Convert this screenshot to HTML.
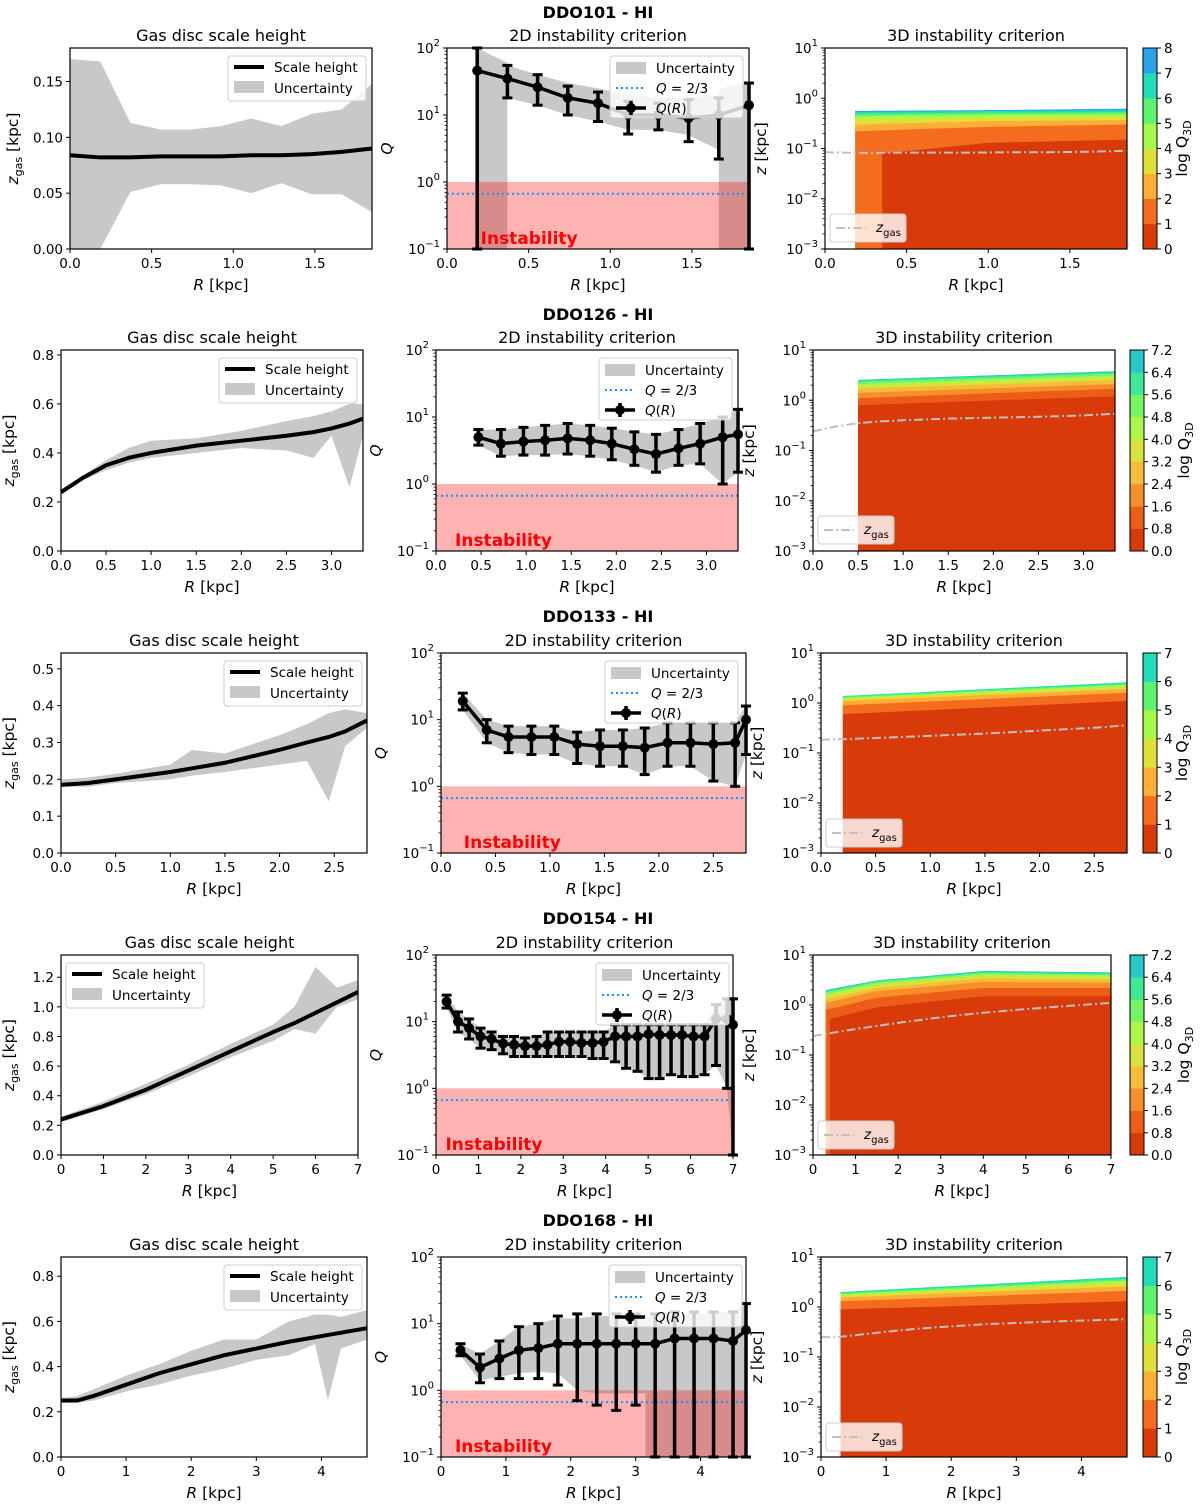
<!DOCTYPE html>
<html><head><meta charset="utf-8">
<style>
html,body{margin:0;padding:0;background:#fff;}
svg{display:block;font-family:"DejaVu Sans","Liberation Sans",sans-serif;}
</style></head>
<body>
<svg id="fig" xmlns="http://www.w3.org/2000/svg" width="1200" height="1509" viewBox="0 0 1200 1509"></svg>
<script>
// ===== DATA =====
const r1_R=[0,0.185,0.37,0.555,0.74,0.925,1.11,1.295,1.48,1.665,1.85];
const r1_zgas=[0.084,0.082,0.082,0.083,0.083,0.083,0.084,0.084,0.085,0.087,0.090];
const r1_zUp=[0.170,0.168,0.113,0.107,0.107,0.110,0.117,0.110,0.121,0.125,0.148];
const r1_zLo=[0.0,0.0,0.051,0.058,0.058,0.057,0.050,0.059,0.049,0.049,0.033];
const r1_QR=[0.185,0.37,0.555,0.74,0.925,1.11,1.295,1.48,1.665,1.85];
const r1_Q=[46,35,26,18,15,10,10,9,10,14];
const r1_Qlo=[0.1,18,14,10,8,5.2,6,4,2.2,0.1];
const r1_Qhi=[100,55,40,27,22,16,15,17,18,30];
const r1_bR=[0.185,0.37,0.37,0.555,0.74,0.925,1.11,1.295,1.48,1.665,1.665,1.85];
const r1_bLo=[0.1,0.1,18,14,10,8,6,6,5,3,0.1,0.1];
const r1_bHi=[100,60,55,40,30,25,20,18,18,20,25,30];
const r1_nodes=[0.185,1.0,1.85];
const r1_tops=[[0.07,0.22,0.30,0.38,0.44,0.49,0.53,0.56],[0.13,0.27,0.35,0.41,0.47,0.52,0.56,0.58],[0.15,0.30,0.37,0.43,0.48,0.53,0.58,0.62]];
const r1_levels=[0,1,2,3,4,5,6,7,8];
const r2_R=[0,0.25,0.5,0.75,1.0,1.5,2.0,2.5,2.8,3.0,3.2,3.35];
const r2_zgas=[0.24,0.30,0.35,0.38,0.40,0.43,0.45,0.47,0.485,0.50,0.52,0.54];
const r2_zUp=[0.25,0.31,0.37,0.42,0.45,0.46,0.49,0.53,0.55,0.57,0.60,0.60];
const r2_zLo=[0.23,0.29,0.33,0.36,0.38,0.40,0.42,0.41,0.38,0.47,0.26,0.47];
const r2_QR=[0.47,0.72,0.97,1.21,1.46,1.71,1.95,2.2,2.44,2.69,2.93,3.18,3.35];
const r2_Q=[5,4,4.3,4.5,4.8,4.5,4,3.3,2.8,3.4,4,5,5.5];
const r2_Qlo=[3.8,2.6,2.7,2.7,2.8,2.6,2.3,1.9,1.5,1.9,2.0,1.0,1.5];
const r2_Qhi=[6.5,6.5,7,7.5,8,7.5,6.8,6,5.5,6.5,8,10,13];
const r2_nodes=[0.5,3.35];
const r2_tops=[[0.8,1.1,1.4,1.7,1.9,2.1,2.3,2.45,2.55],[1.2,1.7,2.1,2.5,2.8,3.1,3.4,3.6,3.8]];
const r2_levels=[0,0.8,1.6,2.4,3.2,4.0,4.8,5.6,6.4,7.2];
const r3_R=[0,0.25,0.5,1.0,1.2,1.5,2.0,2.25,2.45,2.6,2.8];
const r3_zgas=[0.185,0.19,0.20,0.22,0.23,0.245,0.28,0.30,0.315,0.33,0.36];
const r3_zUp=[0.20,0.205,0.215,0.24,0.28,0.27,0.32,0.35,0.38,0.39,0.38];
const r3_zLo=[0.18,0.18,0.19,0.20,0.21,0.22,0.24,0.25,0.14,0.29,0.34];
const r3_QR=[0.2,0.42,0.62,0.83,1.04,1.25,1.46,1.67,1.87,2.08,2.29,2.5,2.7,2.8];
const r3_Q=[19,7,5.5,5.5,5.5,4.3,4,4,3.8,4.5,4.5,4.3,4.5,10];
const r3_Qlo=[14,4.5,3.2,3,3,2.2,2,2,1.5,2,2,1.2,1,3];
const r3_Qhi=[25,10,8,8,8,6.5,7,7,7.5,9,9,9,9,16];
const r3_nodes=[0.2,2.8];
const r3_tops=[[0.6,0.9,1.1,1.2,1.28,1.33,1.38],[1.1,1.6,1.9,2.1,2.3,2.45,2.6]];
const r3_levels=[0,1,2,3,4,5,6,7];
const r4_R=[0,1,2,3,4,5,5.5,6,6.5,7];
const r4_zgas=[0.24,0.33,0.44,0.57,0.70,0.83,0.89,0.96,1.03,1.10];
const r4_zUp=[0.26,0.36,0.48,0.61,0.75,0.88,1.0,1.27,1.13,1.18];
const r4_zLo=[0.22,0.31,0.41,0.53,0.66,0.77,0.85,0.82,1.0,1.05];
const r4_QR=[0.25,0.52,0.78,1.05,1.31,1.58,1.84,2.1,2.37,2.63,2.9,3.16,3.43,3.69,3.95,4.22,4.48,4.75,5.01,5.27,5.54,5.8,6.07,6.33,6.6,6.86,7.0];
const r4_Q=[20,10,8,6,5.5,4.7,4.5,4.3,4.3,4.5,5,5,4.8,4.8,5,6,6,6,6.5,6.3,6.3,6.3,6,6,11,11,9];
const r4_Qlo=[16,7,5.5,4,3.8,3.3,3,3,3,3,3,3,3,2.8,2.8,2.5,2,1.8,1.4,1.4,1.6,1.5,1.5,1.6,2.2,1.0,0.1];
const r4_Qhi=[25,14,11,8,7,6,6,5.7,6,7,7,7,7,7,7,9,9,9,9,9,9,9,9,9,18,22,22];
const r4_nodes=[0.3,1.5,4,7];
const r4_tops=[[0.5,0.8,1.1,1.3,1.5,1.65,1.8,1.9,2.0],[0.9,1.4,1.9,2.2,2.5,2.7,2.9,3.0,3.1],[1.5,2.2,2.9,3.4,3.8,4.1,4.4,4.6,4.8],[1.5,2.2,2.8,3.2,3.6,3.9,4.1,4.3,4.5]];
const r4_levels=[0,0.8,1.6,2.4,3.2,4.0,4.8,5.6,6.4,7.2];
const r5_R=[0,0.25,0.5,1,1.5,2,2.5,3,3.5,3.9,4.1,4.3,4.7];
const r5_zgas=[0.25,0.25,0.27,0.32,0.37,0.41,0.45,0.48,0.51,0.53,0.54,0.55,0.57];
const r5_zUp=[0.26,0.27,0.30,0.36,0.41,0.47,0.52,0.52,0.60,0.63,0.63,0.62,0.65];
const r5_zLo=[0.24,0.24,0.25,0.29,0.32,0.36,0.39,0.43,0.45,0.50,0.25,0.48,0.52];
const r5_QR=[0.3,0.6,0.9,1.2,1.5,1.8,2.1,2.4,2.7,3.0,3.3,3.6,3.9,4.2,4.5,4.7];
const r5_Q=[4,2.2,3,4,4.3,5,5,5,5,5,5,6,6,6,5.5,8];
const r5_Qlo=[3.3,1.3,1.5,1.5,1.5,1.2,0.7,0.6,0.5,0.6,0.1,0.1,0.1,0.1,0.1,0.1];
const r5_Qhi=[5,3.5,5.5,9,10,13,14,14,14,14,14,15,15,15,15,20];
const r5_bR=[0.3,0.6,0.9,1.2,1.5,1.8,2.1,2.4,2.7,3.0,3.15,3.15,3.3,3.6,3.9,4.2,4.5,4.7];
const r5_bLo=[3.3,1.4,1.6,1.8,1.9,1.8,1.0,0.9,0.9,0.9,0.9,0.1,0.1,0.1,0.1,0.1,0.1,0.1];
const r5_bHi=[5,3.5,5.5,9,10,12,12,13,13,13,13,13,14,14,14,15,15,20];
const r5_nodes=[0.3,4.7];
const r5_tops=[[0.9,1.3,1.55,1.7,1.8,1.9,2.0],[1.3,2.1,2.6,3.0,3.4,3.7,4.0]];
const r5_levels=[0,1,2,3,4,5,6,7];

const galaxies=['DDO101 - HI','DDO126 - HI','DDO133 - HI','DDO154 - HI','DDO168 - HI'];

const rows=[
 {ty:18,L:[70,48,372,249],M:[447,48,749,249],C:[825,48,1127,249],CB:[1143,48,1157,249],Rmax:1.85,xt:[0,0.5,1,1.5],xf:1,yMax:0.18,yt:[0,0.05,0.1,0.15],yf:2,R:r1_R,zg:r1_zgas,up:r1_zUp,lo:r1_zLo,QR:r1_QR,Q:r1_Q,Qlo:r1_Qlo,Qhi:r1_Qhi,bR:r1_bR,bLo:r1_bLo,bHi:r1_bHi,nodes:r1_nodes,tops:r1_tops,lv:r1_levels,lf:0,inner:0.35,legL:[228,56],legM:[610,56],legC:[830,214]},
 {ty:320,L:[61,350,363,551],M:[436,350,738,551],C:[813,350,1115,551],CB:[1130,350,1144,551],Rmax:3.35,xt:[0,0.5,1,1.5,2,2.5,3],xf:1,yMax:0.82,yt:[0,0.2,0.4,0.6,0.8],yf:1,R:r2_R,zg:r2_zgas,up:r2_zUp,lo:r2_zLo,QR:r2_QR,Q:r2_Q,Qlo:r2_Qlo,Qhi:r2_Qhi,bR:r2_QR,bLo:r2_Qlo,bHi:r2_Qhi,nodes:r2_nodes,tops:r2_tops,lv:r2_levels,lf:1,inner:null,legL:[219,358],legM:[599,358],legC:[818,516]},
 {ty:622,L:[61,653,367,853],M:[441,653,746,853],C:[821,653,1127,853],CB:[1143,653,1157,853],Rmax:2.8,xt:[0,0.5,1,1.5,2,2.5],xf:1,yMax:0.543,yt:[0,0.1,0.2,0.3,0.4,0.5],yf:1,R:r3_R,zg:r3_zgas,up:r3_zUp,lo:r3_zLo,QR:r3_QR,Q:r3_Q,Qlo:r3_Qlo,Qhi:r3_Qhi,bR:r3_QR,bLo:r3_Qlo,bHi:r3_Qhi,nodes:r3_nodes,tops:r3_tops,lv:r3_levels,lf:0,inner:null,legL:[224,661],legM:[605,661],legC:[826,819]},
 {ty:924,L:[61,955,358,1155],M:[436,955,733,1155],C:[813,955,1111,1155],CB:[1130,955,1144,1155],Rmax:7,xt:[0,1,2,3,4,5,6,7],xf:0,yMax:1.35,yt:[0,0.2,0.4,0.6,0.8,1.0,1.2],yf:1,R:r4_R,zg:r4_zgas,up:r4_zUp,lo:r4_zLo,QR:r4_QR,Q:r4_Q,Qlo:r4_Qlo,Qhi:r4_Qhi,bR:r4_QR,bLo:r4_Qlo,bHi:r4_Qhi,nodes:r4_nodes,tops:r4_tops,lv:r4_levels,lf:1,inner:0.4,legL:[66,963],legM:[596,963],legC:[818,1121]},
 {ty:1226,L:[61,1257,367,1457],M:[441,1257,746,1457],C:[821,1257,1127,1457],CB:[1143,1257,1157,1457],Rmax:4.7,xt:[0,1,2,3,4],xf:0,yMax:0.885,yt:[0,0.2,0.4,0.6,0.8],yf:1,R:r5_R,zg:r5_zgas,up:r5_zUp,lo:r5_zLo,QR:r5_QR,Q:r5_Q,Qlo:r5_Qlo,Qhi:r5_Qhi,bR:r5_bR,bLo:r5_bLo,bHi:r5_bHi,nodes:r5_nodes,tops:r5_tops,lv:r5_levels,lf:0,inner:null,legL:[224,1265],legM:[609,1265],legC:[826,1423]}
];

const NS='http://www.w3.org/2000/svg';
const svg=document.getElementById('fig');
function mk(tag,attrs,parent){const e=document.createElementNS(NS,tag);for(const k in attrs)e.setAttribute(k,attrs[k]);(parent||svg).appendChild(e);return e;}
function tx(x,y,s,attrs,parent){const t=mk('text',Object.assign({x:x,y:y},attrs||{}),parent);if(s!==null)t.textContent=s;return t;}
function sup(t,base,exp){const a=mk('tspan',{},t);a.textContent=base;const b=mk('tspan',{dy:-7,'font-size':10},t);b.textContent=exp;}
const lg=Math.log10;
const cmapStops=[[0.5,[216,58,10]],[1.5,[244,109,30]],[2.5,[252,174,55]],[3.5,[223,224,58]],[4.5,[166,248,76]],[5.5,[94,243,111]],[6.5,[34,219,185]],[7.5,[43,163,234]]];
function cmap(v){if(v<=cmapStops[0][0])return rgb(cmapStops[0][1]);for(let i=1;i<cmapStops.length;i++){if(v<=cmapStops[i][0]){const a=cmapStops[i-1],b=cmapStops[i];const t=(v-a[0])/(b[0]-a[0]);return rgb(a[1].map((c,j)=>c+(b[1][j]-c)*t));}}return rgb(cmapStops[cmapStops.length-1][1]);}
function rgb(c){return 'rgb('+c.map(Math.round).join(',')+')';}
function interpLog(nodes,vals,R){if(R<=nodes[0])return lg(vals[0]);for(let i=1;i<nodes.length;i++){if(R<=nodes[i]){const t=(R-nodes[i-1])/(nodes[i]-nodes[i-1]);return lg(vals[i-1])+(lg(vals[i])-lg(vals[i-1]))*t;}}return lg(vals[vals.length-1]);}

function frame(g,b){const f=mk('rect',{x:b[0],y:b[1],width:b[2]-b[0],height:b[3]-b[1],fill:'none',stroke:'#000','stroke-width':1.2},g);

}
function xTicks(g,b,xt,xmax,fmt){const sx=v=>b[0]+v/xmax*(b[2]-b[0]);xt.forEach(v=>{const x=sx(v);mk('line',{x1:x,x2:x,y1:b[3],y2:b[3]+4,stroke:'#000','stroke-width':1},g);const t=tx(x,b[3]+19,v.toFixed(fmt),{'font-size':13.5,'text-anchor':'middle'},g);

});
const xl=tx((b[0]+b[2])/2,b[3]+41,null,{'font-size':15.5,'text-anchor':'middle'},g);


const i=mk('tspan',{'font-style':'italic'},xl);i.textContent='R';const r=mk('tspan',{},xl);r.textContent=' [kpc]';}
function logYTicks(g,b,e0,e1){const sy=v=>b[3]-(lg(v)-e0)/(e1-e0)*(b[3]-b[1]);for(let e=e0;e<=e1;e++){const y=sy(Math.pow(10,e));mk('line',{x1:b[0],x2:b[0]-4,y1:y,y2:y,stroke:'#000','stroke-width':1},g);const t=tx(b[0]-7,y+5,null,{'font-size':13.5,'text-anchor':'end'},g);


sup(t,'10',e<0?'\u2212'+(-e):String(e));if(e<e1){for(let m=2;m<10;m++){const yy=sy(m*Math.pow(10,e));mk('line',{x1:b[0],x2:b[0]-2.5,y1:yy,y2:yy,stroke:'#000','stroke-width':0.8},g);}}}return sy;}

rows.forEach((r,ri)=>{
 const row=mk('g',{});
 
 
 const st=tx(598,r.ty,galaxies[ri],{'font-size':16,'font-weight':'bold','text-anchor':'middle'},row);
 
 

 const b=r.L;const gL=mk('g',{},row);
 
 
 const sx=v=>b[0]+v/r.Rmax*(b[2]-b[0]);const sy=v=>b[3]-v/r.yMax*(b[3]-b[1]);
 let p='';r.R.forEach((R,i)=>{p+=(i?'L':'M')+sx(R)+','+sy(r.up[i]);});for(let i=r.R.length-1;i>=0;i--)p+='L'+sx(r.R[i])+','+sy(r.lo[i]);
 const band=mk('path',{d:p+'Z',fill:'#c8c8c8'},gL);
 
 
 const ln=mk('polyline',{points:r.R.map((R,i)=>sx(R)+','+sy(r.zg[i])).join(' '),fill:'none',stroke:'#000','stroke-width':4},gL);
 
 
 frame(gL,b);
 xTicks(gL,b,r.xt,r.Rmax,r.xf);
 r.yt.forEach(v=>{const y=sy(v);mk('line',{x1:b[0],x2:b[0]-4,y1:y,y2:y,stroke:'#000'},gL);const t=tx(b[0]-7,y+5,v.toFixed(r.yf),{'font-size':13.5,'text-anchor':'end'},gL);
 
 });
 const ylx=b[0]-(r.yf===2?52:47);const cy=(b[1]+b[3])/2;
 const yl=tx(ylx,cy,null,{'font-size':15.5,'text-anchor':'middle',transform:'rotate(-90 '+ylx+' '+cy+')'},gL);
 
 
 let a=mk('tspan',{'font-style':'italic'},yl);a.textContent='z';a=mk('tspan',{dy:4,'font-size':11},yl);a.textContent='gas';a=mk('tspan',{dy:-4},yl);a.textContent=' [kpc]';
 const t1=tx((b[0]+b[2])/2,b[1]-7,'Gas disc scale height',{'font-size':16,'text-anchor':'middle'},gL);
 
 
 const lx=r.legL[0],ly=r.legL[1];const leg=mk('g',{},gL);
 
 
 mk('rect',{x:lx,y:ly,width:138,height:45,rx:3,fill:'rgba(255,255,255,0.8)',stroke:'#ccc'},leg);
 mk('line',{x1:lx+6,x2:lx+36,y1:ly+11,y2:ly+11,stroke:'#000','stroke-width':4},leg);
 tx(lx+46,ly+16,'Scale height',{'font-size':13.5},leg);
 mk('rect',{x:lx+6,y:ly+25,width:30,height:12,fill:'#c8c8c8'},leg);
 tx(lx+46,ly+37,'Uncertainty',{'font-size':13.5},leg);

 const m=r.M;const gM=mk('g',{},row);
 
 
 const mx=v=>m[0]+v/r.Rmax*(m[2]-m[0]);const my=v=>m[3]-(lg(v)+1)/3*(m[3]-m[1]);
 p='';r.bR.forEach((R,i)=>{p+=(i?'L':'M')+mx(R)+','+my(Math.min(r.bHi[i],100));});for(let i=r.bR.length-1;i>=0;i--)p+='L'+mx(r.bR[i])+','+my(Math.max(r.bLo[i],0.1));
 const qb=mk('path',{d:p+'Z',fill:'#c8c8c8'},gM);
 
 
 const pk=mk('rect',{x:m[0],y:my(1),width:m[2]-m[0],height:my(0.1)-my(1),fill:'rgba(255,0,0,0.3)'},gM);
 
 
 const dl=mk('line',{x1:m[0],x2:m[2],y1:my(2/3),y2:my(2/3),stroke:'#1e8fff','stroke-width':2,'stroke-dasharray':'2,3'},gM);
 
 
 const ql=mk('polyline',{points:r.QR.map((R,i)=>mx(R)+','+my(r.Q[i])).join(' '),fill:'none',stroke:'#000','stroke-width':3.5},gM);
 
 
 r.QR.forEach((R,i)=>{const x=mx(R);const y0=my(Math.min(r.Qhi[i],100)),y1=my(Math.max(r.Qlo[i],0.1));
  const eb=mk('g',{},gM);
  
  
  mk('line',{x1:x,x2:x,y1:y0,y2:y1,stroke:'#000','stroke-width':3.5},eb);
  mk('line',{x1:x-5,x2:x+5,y1:y0,y2:y0,stroke:'#000','stroke-width':3},eb);
  mk('line',{x1:x-5,x2:x+5,y1:y1,y2:y1,stroke:'#000','stroke-width':3},eb);
  const pt=mk('circle',{cx:x,cy:my(r.Q[i]),r:5,fill:'#000'},eb);
  
  });
 const ins=tx(mx(0.2)+1,m[3]-5,'Instability',{'font-size':17,'font-weight':'bold',fill:'#ff0000'},gM);
 
 
 frame(gM,m);xTicks(gM,m,r.xt,r.Rmax,r.xf);logYTicks(gM,m,-1,2);
 const qx=m[0]-55,qy=(m[1]+m[3])/2;
 const qt=tx(qx,qy,'Q',{'font-size':15.5,'font-style':'italic','text-anchor':'middle',transform:'rotate(-90 '+qx+' '+qy+')'},gM);
 
 
 const t2=tx((m[0]+m[2])/2,m[1]-7,'2D instability criterion',{'font-size':16,'text-anchor':'middle'},gM);
 
 
 const mlx=r.legM[0],mly=r.legM[1];const lm=mk('g',{},gM);
 
 
 mk('rect',{x:mlx,y:mly,width:133,height:62,rx:3,fill:'rgba(255,255,255,0.8)',stroke:'#ccc'},lm);
 mk('rect',{x:mlx+6,y:mly+6,width:30,height:12,fill:'#c8c8c8'},lm);
 tx(mlx+46,mly+17,'Uncertainty',{'font-size':13.5},lm);
 mk('line',{x1:mlx+6,x2:mlx+36,y1:mly+32,y2:mly+32,stroke:'#1e8fff','stroke-width':2,'stroke-dasharray':'2,3'},lm);
 const qe=tx(mlx+46,mly+37,null,{'font-size':13.5},lm);a=mk('tspan',{'font-style':'italic'},qe);a.textContent='Q';a=mk('tspan',{},qe);a.textContent=' = 2/3';
 mk('line',{x1:mlx+6,x2:mlx+36,y1:mly+52,y2:mly+52,stroke:'#000','stroke-width':3.5},lm);
 mk('line',{x1:mlx+21,x2:mlx+21,y1:mly+45,y2:mly+59,stroke:'#000','stroke-width':3.5},lm);
 mk('circle',{cx:mlx+21,cy:mly+52,r:5,fill:'#000'},lm);
 const qr=tx(mlx+46,mly+57,null,{'font-size':13.5},lm);a=mk('tspan',{'font-style':'italic'},qr);a.textContent='Q';a=mk('tspan',{},qr);a.textContent='(';a=mk('tspan',{'font-style':'italic'},qr);a.textContent='R';a=mk('tspan',{},qr);a.textContent=')';

 const c=r.C;const gC=mk('g',{},row);
 
 
 const cx=v=>c[0]+v/r.Rmax*(c[2]-c[0]);const cyy=lv=>c[3]-(lv+3)/4*(c[3]-c[1]);
 const nb=r.lv.length-1;const R0=r.nodes[0];
 for(let k=nb-1;k>=0;k--){
  const rs=(k===0&&r.inner)?r.inner:R0;const N=40;let pp='M'+cx(rs)+','+c[3];
  for(let s=0;s<=N;s++){const R=rs+(r.Rmax-rs)*s/N;const vals=r.tops.map(t=>t[k]);pp+='L'+cx(R)+','+cyy(interpLog(r.nodes,vals,R));}
  pp+='L'+cx(r.Rmax)+','+c[3]+'Z';
  const bd=mk('path',{d:pp,fill:cmap((r.lv[k]+r.lv[k+1])/2)},gC);
  
  }
 const zl=mk('polyline',{points:r.R.map((R,i)=>cx(R)+','+cyy(lg(r.zg[i]))).join(' '),fill:'none',stroke:'#c0c0c0','stroke-width':2,'stroke-dasharray':'9,3,2,3'},gC);
 
 
 frame(gC,c);xTicks(gC,c,r.xt,r.Rmax,r.xf);logYTicks(gC,c,-3,1);
 const zx=c[0]-59,zy=(c[1]+c[3])/2;
 const zt=tx(zx,zy,null,{'font-size':15.5,'text-anchor':'middle',transform:'rotate(-90 '+zx+' '+zy+')'},gC);
 
 
 a=mk('tspan',{'font-style':'italic'},zt);a.textContent='z';a=mk('tspan',{},zt);a.textContent=' [kpc]';
 const t3=tx((c[0]+c[2])/2,c[1]-7,'3D instability criterion',{'font-size':16,'text-anchor':'middle'},gC);
 
 
 const clx=r.legC[0],cly=r.legC[1];const lc=mk('g',{},gC);
 
 
 mk('rect',{x:clx,y:cly,width:76,height:28,rx:3,fill:'rgba(255,255,255,0.8)',stroke:'#ccc'},lc);
 mk('line',{x1:clx+6,x2:clx+36,y1:cly+14,y2:cly+14,stroke:'#c0c0c0','stroke-width':2,'stroke-dasharray':'9,3,2,3'},lc);
 const zz=tx(clx+46,cly+18,null,{'font-size':13.5},lc);a=mk('tspan',{'font-style':'italic'},zz);a.textContent='z';a=mk('tspan',{dy:4,'font-size':10},zz);a.textContent='gas';

 const cb=r.CB;const gB=mk('g',{},row);
 
 
 const vmax=r.lv[nb];const by=v=>cb[3]-v/vmax*(cb[3]-cb[1]);
 for(let k=0;k<nb;k++){const sw=mk('rect',{x:cb[0],y:by(r.lv[k+1]),width:cb[2]-cb[0],height:by(r.lv[k])-by(r.lv[k+1])+0.3,fill:cmap((r.lv[k]+r.lv[k+1])/2)},gB);
  
  }
 mk('rect',{x:cb[0],y:cb[1],width:cb[2]-cb[0],height:cb[3]-cb[1],fill:'none',stroke:'#000'},gB);
 r.lv.forEach(v=>{const y=by(v);mk('line',{x1:cb[2],x2:cb[2]+4,y1:y,y2:y,stroke:'#000'},gB);const t=tx(cb[2]+7,y+5,v.toFixed(r.lf),{'font-size':13.5},gB);
  
  });
 const bx=cb[2]+(r.lf?45:30),byc=(cb[1]+cb[3])/2;
 const bl=tx(bx,byc,null,{'font-size':15.5,'text-anchor':'middle',transform:'rotate(-90 '+bx+' '+byc+')'},gB);
 
 
 a=mk('tspan',{},bl);a.textContent='log Q';a=mk('tspan',{dy:4,'font-size':11},bl);a.textContent='3D';
});
</script>
</body></html>
